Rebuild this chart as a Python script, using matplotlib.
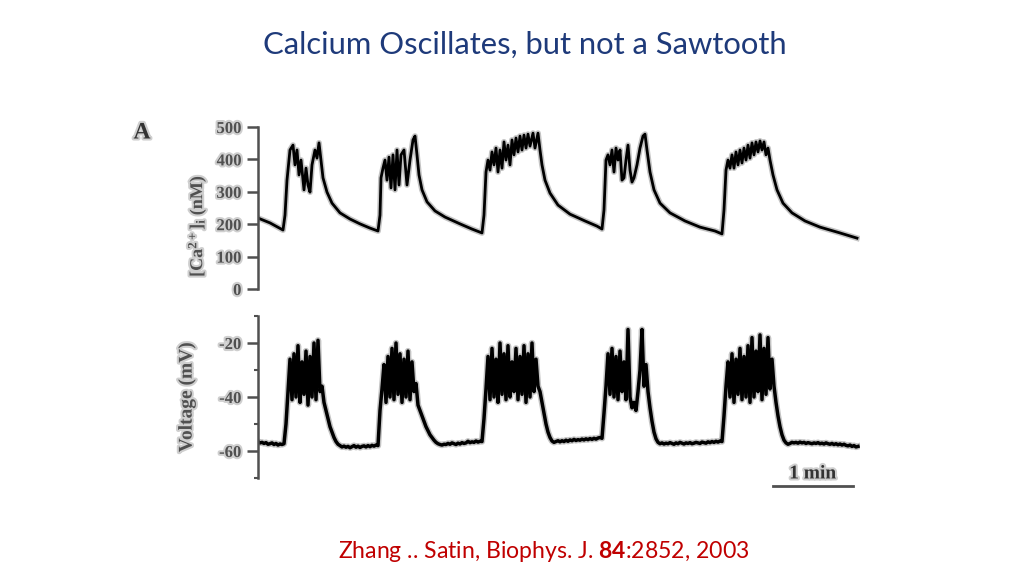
import matplotlib
matplotlib.use("Agg")
import matplotlib.pyplot as plt
import matplotlib.patheffects as pe
import numpy as np

# ---- data ----
# [Ca2+]i trace: time (s) and concentration (nM)
ca_t = [0, 9, 18.75, 20.25, 21.75, 24, 26.25, 27.75, 29.25, 30.75, 32.25, 34.5, 36, 37.5, 39,
        40.5, 42.75, 44.25, 45.75, 47.25, 48.75, 51.75, 55.5, 61.5, 69, 76.5, 84, 90,
        91.5, 92.25, 93.75, 95.25, 96.75, 98.25, 99.75, 101.25, 102.75, 104.25, 105.75, 107.25,
        109.5, 111.75, 114, 116.25, 117.75, 119.25, 120.75, 123, 126.75, 132.75, 140.25, 151.5,
        160.5, 168,
        169.5, 171, 172.5, 174, 175.5, 177, 178.5, 180, 181.5, 183, 184.5, 186, 187.5, 189, 190.5,
        192, 193.5, 195, 196.5, 198, 199.5, 201, 202.5, 204, 206.25, 207.75, 210, 211.5, 213,
        215.25, 219, 225, 234, 245.25, 254.25, 258,
        259.5, 261, 262.5, 264, 265.5, 267, 268.5, 270, 271.5, 273, 274.5, 276, 277.5, 279, 280.5,
        282, 284.25, 286.5, 288.75, 290.25, 291.75, 294, 297, 301.5, 309, 320.25, 331.5, 342.75,
        348,
        349.5, 351, 352.5, 354, 355.5, 357, 358.5, 360, 361.5, 363, 364.5, 366, 367.5, 369, 370.5,
        372, 373.5, 375, 376.5, 378, 379.5, 381, 382.5, 384, 386.25, 389.25, 393.75, 400.5,
        410.25, 421.5, 436.5, 449.25]
ca_nm = [219, 204, 182, 228, 336, 429, 444, 383, 429, 352, 398, 306, 373, 321, 299,
         383, 429, 404, 451, 398, 343, 299, 265, 235, 216, 201, 188, 179,
         228, 343, 373, 398, 336, 407, 312, 414, 306, 429, 321, 414,
         429, 321, 398, 460, 472, 414, 352, 306, 269, 241, 222, 201,
         185, 173,
         228, 361, 398, 367, 423, 383, 435, 361, 429, 373, 454, 398, 444, 383, 460,
         414, 466, 423, 472, 429, 475, 435, 478, 441, 481, 435, 481, 429, 383,
         336, 296, 259, 231, 210, 194, 185,
         244, 398, 414, 383, 429, 361, 435, 398, 429, 336, 343, 398, 444, 367, 330,
         343, 383, 435, 472, 478, 429, 361, 306, 265, 235, 210, 191, 179,
         170,
         244, 367, 398, 373, 414, 373, 423, 383, 429, 389, 435, 398, 444, 404, 451,
         414, 454, 423, 457, 429, 454, 414, 435, 398, 352, 306, 265, 235,
         210, 191, 173, 157]

# membrane voltage (mV), one reading every 1.5 s
vm_step = 1.5
vm = [-56.5, -57, -56.8, -57.2, -56.9, -57.5, -57.3, -57.0, -57.6, -57.2, -57.8, -57.4, -57.6, -57.3,
      -50, -38,
      -26, -41, -24, -40, -21, -42, -27, -39, -23, -43, -25, -40, -20, -41, -19, -38,
      -36, -42,
      -45, -48, -51, -53, -55, -56.5, -57.5, -58, -58.5, -58.2, -58.6,
      -58.3, -58.8, -58.4, -58.0, -58.6, -58.2, -58.7, -58.3, -58.1, -58.5, -58.0, -58.4, -57.9,
      -58.2, -57.8, -58.0,
      -45, -37,
      -28, -42, -25, -40, -22, -41, -20, -39, -24, -42, -26, -40, -23, -41, -27, -38, -35,
      -43, -45, -47, -49, -51, -52.5, -54, -55, -56, -56.8, -57.3, -57.6, -57.8, -57.5,
      -57.6, -57.2, -57.5, -57.0, -57.3, -57.6, -57.1, -57.4, -56.9, -57.2, -57.0, -56.4, -56.9,
      -56.6, -56.8, -56.3, -56.7, -56.4, -56.5,
      -48, -37,
      -25, -41, -22, -40, -26, -42, -20, -39, -24, -41, -21, -40, -27, -38, -22, -41, -25, -39,
      -21, -42, -24, -40, -20, -38, -26, -36, -38,
      -42, -46, -50, -53, -55, -56.3, -56.8, -56.5, -56.2, -56.6,
      -56.2, -56.5, -56.0, -56.4, -55.9, -56.2, -55.7, -56.1, -55.8, -56.0, -55.6, -55.9, -55.5,
      -55.8, -55.4, -55.7, -55.3, -55.6, -55.2, -55.0, -55.3,
      -46, -36,
      -24, -39, -22, -40, -25, -41, -23, -38, -27, -41, -15, -40, -44, -42, -45, -38, -30, -15,
      -36, -28,
      -38, -44, -49, -53, -55.5, -56.8, -57.3, -57.0, -57.4, -57.1,
      -57.3, -56.9, -57.2, -57.5, -57.0, -57.3, -56.8, -57.1, -57.4, -57.0, -57.2, -56.9, -57.3,
      -57.1, -56.8, -57.0, -57.2, -56.7, -56.9, -57.1, -56.6, -56.9, -56.5, -56.8, -56.4, -56.7,
      -56.3, -56.5,
      -47, -36,
      -27, -40, -24, -42, -26, -39, -22, -41, -25, -40, -21, -42, -18, -40, -23, -38, -17, -41,
      -22, -39, -18, -37, -26, -36,
      -42, -47, -51, -54, -56, -57, -57.5, -57.2, -56.8, -57.0,
      -56.8, -57.1, -56.7, -57.0, -56.8, -57.2, -56.9, -57.1, -57.3, -57.0, -57.2, -56.9, -57.3,
      -57.1, -57.4, -57.0, -57.3, -57.5, -57.2, -57.6, -57.3, -57.7, -57.4, -57.8, -57.5, -57.9,
      -58.1, -57.8, -58.3, -58.0, -58.5, -58.3]
vm_t = np.arange(len(vm)) * vm_step

ca_ticks = [0, 100, 200, 300, 400, 500]
vm_ticks = [-20, -40, -60]
vm_minor = [-10, -30, -50, -70]
scale_bar = (386, 446)   # 1 min

plt.rcParams['axes.unicode_minus'] = False
plt.rcParams['mathtext.fontset'] = 'custom'
plt.rcParams['mathtext.rm'] = 'Lato'
plt.rcParams['mathtext.bf'] = 'Lato:bold'

gray = '#505050'
serif = 'Liberation Serif'
halo = [pe.withStroke(linewidth=3, foreground='#cfcfcf')]

fig = plt.figure(figsize=(10.24, 5.76), dpi=100)

ax1 = fig.add_axes([258 / 1024, 1 - 289 / 576, 602 / 1024, 162 / 576])
ax2 = fig.add_axes([258 / 1024, 1 - 478 / 576, 602 / 1024, 162 / 576])

ax1.plot(ca_t, ca_nm, color='#c4c4c4', lw=4.2, solid_joinstyle='round')
ax1.plot(ca_t, ca_nm, color='black', lw=2.0, solid_joinstyle='round')
ax2.plot(vm_t, vm, color='#c4c4c4', lw=4.6, solid_joinstyle='round')
ax2.plot(vm_t, vm, color='black', lw=2.5, solid_joinstyle='round')

ax1.set_ylim(0, 500)
ax1.set_yticks(ca_ticks)
ax2.set_ylim(-70, -10)
ax2.set_yticks(vm_ticks)
ax2.set_yticks(vm_minor, minor=True)

for ax in (ax1, ax2):
    ax.set_xlim(0, 451.5)
    ax.set_xticks([])
    for s in ('top', 'right', 'bottom'):
        ax.spines[s].set_visible(False)
    ax.spines['left'].set_color(gray)
    ax.spines['left'].set_linewidth(1.8)
    ax.tick_params(axis='y', which='major', length=8, width=1.8, color=gray, pad=4,
                   labelcolor=gray)
    ax.tick_params(axis='y', which='minor', length=3, width=1.5, color=gray)
    for lab in ax.get_yticklabels():
        lab.set_fontfamily(serif)
        lab.set_fontweight('bold')
        lab.set_fontsize(12)
        lab.set_path_effects(halo)
    ax.patch.set_alpha(0)

# axis labels
fig.text(197 / 1024, 1 - 226 / 576, r'[Ca$\mathregular{^{2+}}$]$\mathregular{_i}$ (nM)',
         rotation=90, ha='center', va='center', family=serif, weight='bold',
         fontsize=13, color=gray, path_effects=halo)
fig.text(187 / 1024, 1 - 397 / 576, 'Voltage (mV)', rotation=90, ha='center', va='center',
         family=serif, weight='bold', fontsize=14, color=gray, path_effects=halo)
fig.text(142 / 1024, 1 - 133 / 576, 'A', ha='center', va='center', family=serif,
         weight='bold', fontsize=17, color='#333333', path_effects=halo)

# scale bar
ax2.plot(scale_bar, [-73, -73], color=gray, lw=2, clip_on=False)
ax2.text(sum(scale_bar) / 2, -68.5, '1 min', ha='center', va='center', family=serif,
         weight='bold', fontsize=14, color='#333333', path_effects=halo, clip_on=False)

# slide title and citation
fig.text(525 / 1024, 1 - 45 / 576, 'Calcium Oscillates, but not a Sawtooth', ha='center',
         va='center', family='Lato', fontsize=22.3, color='#1e3a7a')
fig.text(544 / 1024, 1 - 551 / 576, r'Zhang .. Satin, Biophys. J. $\mathbf{84}$:2852, 2003',
         ha='center', va='center', family='Lato', fontsize=16.6, color='#c00000')

fig.savefig('out.png', dpi=100)
